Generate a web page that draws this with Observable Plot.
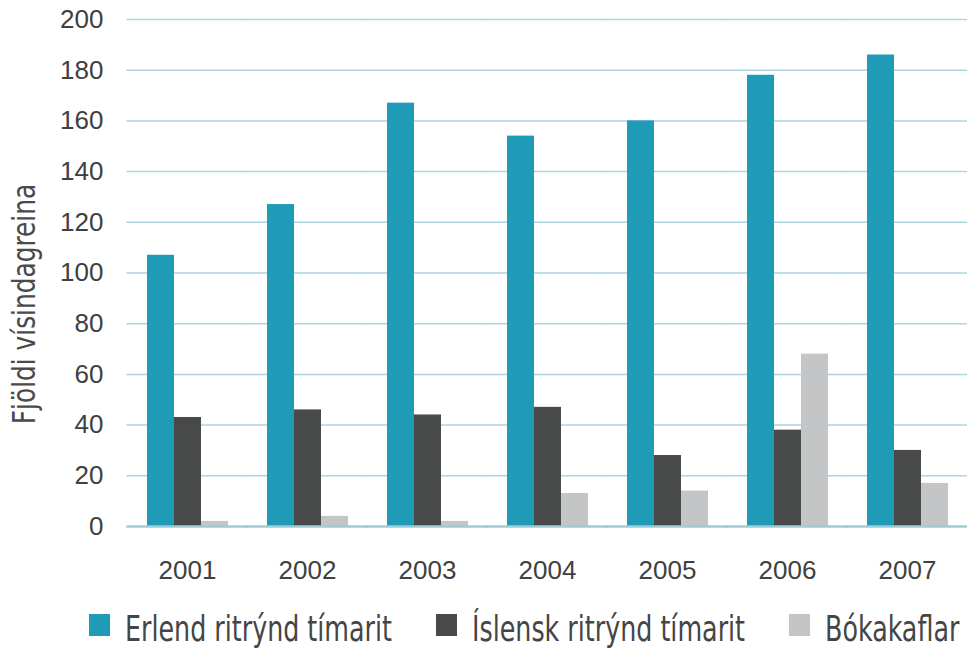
<!DOCTYPE html>
<html>
<head>
<meta charset="utf-8">
<script src="https://cdn.jsdelivr.net/npm/d3@7"></script>
<script src="https://cdn.jsdelivr.net/npm/@observablehq/plot@0.6"></script>
<style>
  html, body { margin: 0; padding: 0; background: #fff; }
  #wrap { width: 967px; height: 650px; overflow: hidden; }
  #wrap svg { display: block; }
</style>
</head>
<body>
<div id="wrap"></div>
<script>
const years = ["2001", "2002", "2003", "2004", "2005", "2006", "2007"];
const seriesNames = ["Erlend ritrýnd tímarit", "Íslensk ritrýnd tímarit", "Bókakaflar"];
const erlend = [107, 127, 167, 154, 160, 178, 186];
const islensk = [43, 46, 44, 47, 28, 38, 30];
const bokakaflar = [2, 4, 2, 13, 14, 68, 17];
const colors = ["#1f9bb7", "#484a49", "#c4c5c6"];
const yTicks = [0, 20, 40, 60, 80, 100, 120, 140, 160, 180, 200];
const yLabel = "Fjöldi vísindagreina";

const seriesValues = [erlend, islensk, bokakaflar];
const data = years.flatMap((year, i) =>
  seriesNames.map((s, j) => ({ year, series: s, value: seriesValues[j][i] }))
);

const condensed = "'DejaVu Sans Condensed', 'Liberation Sans Narrow', sans-serif";

const chart = Plot.plot({
  width: 967,
  height: 600,
  marginTop: 19,
  marginBottom: 74,
  marginLeft: 127,
  marginRight: 0,
  style: { fontFamily: "'Liberation Sans', Arial, sans-serif", fontSize: "26px", color: "#404040", background: "#fff" },
  fx: { domain: years, paddingInner: 0.32, paddingOuter: 0.16, label: null, tickSize: 0, tickPadding: 34 },
  x: { domain: seriesNames, padding: 0, axis: null },
  y: { domain: [0, 200], ticks: yTicks, label: null, tickSize: 0, tickPadding: 43 },
  color: { domain: seriesNames, range: colors },
  marks: [
    Plot.ruleY(yTicks.filter(d => d > 0), { stroke: "#a9d4e0", strokeWidth: 1.5, insetLeft: -19.6, insetRight: -19.6 }),
    Plot.barY(data, { fx: "year", x: "series", y: "value", fill: "series" }),
    Plot.ruleY([0], { stroke: "#9fcad8", strokeWidth: 2.5, insetLeft: -19.6, insetRight: -19.6 })
  ]
});

const wrap = document.getElementById("wrap");
wrap.appendChild(chart);

// y-axis title (condensed, light look)
d3.select(chart).append("text")
  .attr("transform", "translate(35,304) rotate(-90) scale(0.876,1)")
  .attr("text-anchor", "middle")
  .style("font-family", condensed)
  .style("font-size", "31.5px")
  .attr("fill", "#4a4a4a")
  .text(yLabel);

// legend below the chart
const legendSvg = d3.create("svg").attr("width", 967).attr("height", 50);
wrap.appendChild(legendSvg.node());
const sx = 0.783;
let xPos = 89;
seriesNames.forEach((name, i) => {
  legendSvg.append("rect")
    .attr("x", xPos).attr("y", 14).attr("width", 21).attr("height", 22)
    .attr("fill", colors[i]);
  xPos += 21 + 15;
  const t = legendSvg.append("text")
    .attr("transform", `translate(${xPos},41) scale(${sx},1)`)
    .style("font-family", condensed)
    .style("font-size", "36px")
    .attr("fill", "#454545")
    .text(name);
  xPos += t.node().getComputedTextLength() * sx + 44;
});
</script>
</body>
</html>
